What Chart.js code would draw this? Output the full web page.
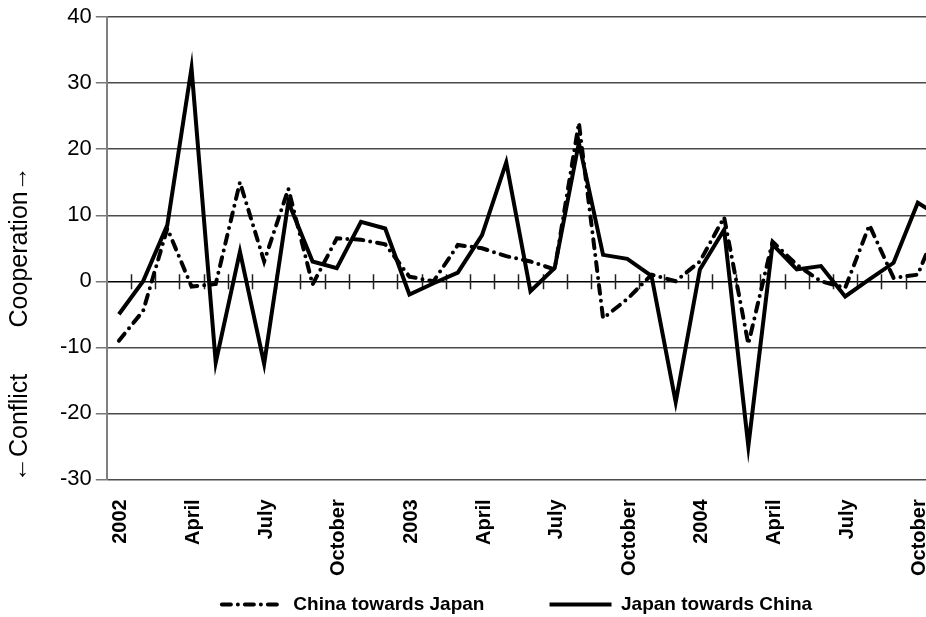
<!DOCTYPE html>
<html>
<head>
<meta charset="utf-8">
<script src="https://cdn.jsdelivr.net/npm/chart.js@4.4.1/dist/chart.umd.min.js"></script>
<style>
  html, body { margin: 0; padding: 0; background: #fff; overflow: hidden; }
</style>
</head>
<body>
<!-- wider than the window: the original picture is cropped mid-way through Nov 2004 -->
<canvas id="eventChart" width="978" height="617"></canvas>
<script>
// months Jan 2002 .. Nov 2004, only quarter starts get a label
const months = [
    "2002", "", "", "April", "", "", "July", "", "", "October", "", "",
    "2003", "", "", "April", "", "", "July", "", "", "October", "", "",
    "2004", "", "", "April", "", "", "July", "", "", "October", "",
];

const chinaTowardsJapan = [
    -9, -4.5, 8, -0.8, -0.4, 15, 3, 14, -0.5, 6.5, 6.3, 5.6,
    0.7, 0, 5.5, 5, 3.8, 3, 1.8, 24, -5.6, -2.7, 1, 0,
    3, 9.7, -9.5, 6, 2.5, 0, -1, 8.5, 0.5, 1, 10,
];

const japanTowardsChina = [
    -5, 0, 8.5, 32.3, -12.3, 4.5, -12.5, 12, 3, 2, 9, 8,
    -2, -0.3, 1.3, 7, 18, -1.5, 2, 21, 4, 3.4, 0.8, -18.3,
    1.8, 7.8, -25, 5.6, 1.8, 2.3, -2.3, 0.3, 2.8, 11.9, 9.6,
];

const seriesNames = ["China towards Japan", "Japan towards China"];
const yTitleUp = "Cooperation\u2192";
const yTitleDown = "\u2190Conflict";

const dashDot = [9, 7, 0, 7];
const sans = "'Liberation Sans', Arial, sans-serif";

// small tick marks on the zero line, between months
const zeroTicks = {
    id: "zeroTicks",
    beforeDatasetsDraw(chart) {
        const x = chart.scales.x;
        const y0 = chart.scales.y.getPixelForValue(0);
        const half = (x.getPixelForValue(1) - x.getPixelForValue(0)) / 2;
        const ctx = chart.ctx;
        ctx.save();
        ctx.strokeStyle = "#222";
        ctx.lineWidth = 1.5;
        ctx.beginPath();
        for (let i = 0; i <= months.length; i++) {
            const px = Math.round(x.getPixelForValue(i) - half) + 0.5;
            if (px <= chart.chartArea.left + 1) continue;
            ctx.moveTo(px, y0 - 7);
            ctx.lineTo(px, y0 + 8);
        }
        ctx.stroke();
        ctx.restore();
    },
};

// the two-part y title: "<-Conflict   Cooperation->"
const yTitle = {
    id: "yTitle",
    afterDraw(chart) {
        const y = chart.scales.y;
        const ctx = chart.ctx;
        const parts = [
            [yTitleUp, -7, "left"],
            [yTitleDown, -14, "right"],
        ];
        parts.forEach(([text, at, align]) => {
            ctx.save();
            ctx.fillStyle = "#000";
            ctx.font = "25px " + sans;
            ctx.textBaseline = "middle";
            ctx.textAlign = align;
            ctx.translate(20, y.getPixelForValue(at));
            ctx.rotate(-Math.PI / 2);
            ctx.fillText(text, 0, 0);
            ctx.restore();
        });
    },
};

new Chart(document.getElementById("eventChart"), {
    type: "line",
    data: {
        labels: months,
        datasets: [
            {
                label: seriesNames[0],
                data: chinaTowardsJapan,
                borderColor: "#000",
                backgroundColor: "#000",
                borderWidth: 4,
                borderDash: dashDot,
                borderCapStyle: "round",
                pointRadius: 0,
                tension: 0,
            },
            {
                label: seriesNames[1],
                data: japanTowardsChina,
                borderColor: "#000",
                backgroundColor: "#000",
                borderWidth: 4,
                pointRadius: 0,
                tension: 0,
            },
        ],
    },
    options: {
        responsive: false,
        animation: false,
        devicePixelRatio: 1,
        layout: { padding: { left: 56, top: 4, right: 0, bottom: -7 } },
        scales: {
            x: {
                offset: true,
                grid: { display: false },
                border: { display: false },
                ticks: {
                    autoSkip: false,
                    maxRotation: 90,
                    minRotation: 90,
                    padding: 12,
                    labelOffset: 2,
                    color: "#000",
                    font: { family: sans, size: 20, weight: "bold" },
                },
            },
            y: {
                min: -30,
                max: 40,
                ticks: {
                    stepSize: 10,
                    padding: 4,
                    color: "#000",
                    font: { family: sans, size: 22 },
                },
                grid: {
                    color: (c) => (c.tick && c.tick.value === 0 ? "#000" : "#4a4a4a"),
                    lineWidth: 1.5,
                    tickLength: 11,
                    tickColor: "#777",
                },
                border: { display: true, color: "#808080", width: 2 },
            },
        },
        plugins: {
            legend: {
                position: "bottom",
                labels: {
                    usePointStyle: true,
                    pointStyle: "line",
                    pointStyleWidth: 62,
                    color: "#000",
                    padding: 7,
                    font: { family: sans, size: 19, weight: "bold" },
                    generateLabels(chart) {
                        const items = Chart.defaults.plugins.legend.labels.generateLabels(chart);
                        items.forEach((item) => {
                            item.lineWidth = 4;
                            item.strokeStyle = "#000";
                        });
                        items[0].lineDash = dashDot;
                        items[0].lineCap = "round";
                        items[0].text = items[0].text + "           ";
                        return items;
                    },
                },
            },
            tooltip: { enabled: false },
        },
    },
    plugins: [zeroTicks, yTitle],
});
</script>
</body>
</html>
